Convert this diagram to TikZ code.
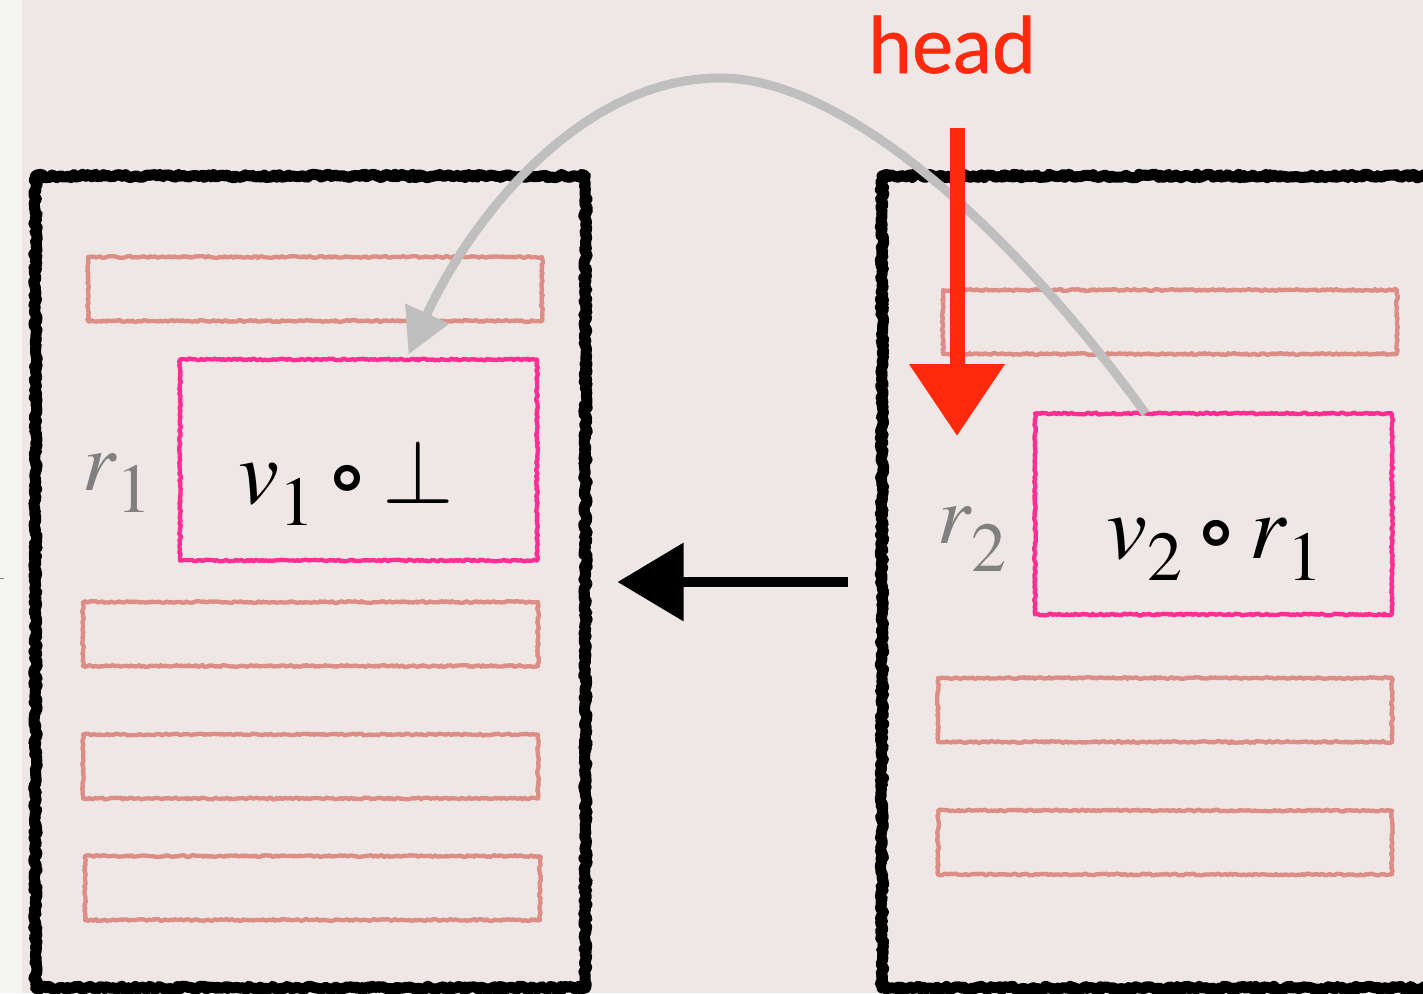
\documentclass[tikz,border=0pt]{standalone}
\usepackage{mathptmx}
\usepackage[no-math]{fontspec}
\newfontfamily\headfont[FakeBold=0.7]{Lato}
\newfontfamily\ringfont{DejaVu Sans}[BoldFont={DejaVu Sans Bold}]
\usetikzlibrary{decorations.pathmorphing,arrows.meta,calc}
\definecolor{bg}{HTML}{EFE7E5}
\definecolor{strip}{HTML}{F5F5F2}
\definecolor{salmon}{HTML}{DC8E86}
\definecolor{hotpink}{HTML}{FF2E92}
\definecolor{headred}{HTML}{FF2A0E}
\definecolor{arcgray}{HTML}{BFBFBF}
\definecolor{labgray}{HTML}{808080}
% subscript helper: base, lowering, subscript
\newcommand\lowsub[3]{$#1$\raisebox{-#2}{\fontsize{70}{70}\selectfont$#3$}}
\newcommand\ringop{{\ringfont\bfseries\fontsize{80}{80}\selectfont ∘}}
\tikzset{
  sketchbig/.style={draw=black, line width=11pt, line join=round, inner sep=0pt, outer sep=0pt,
    decorate, decoration={random steps, segment length=2.5pt, amplitude=1.8pt}},
  slot/.style={draw=salmon, line width=4.3pt, line join=round, inner sep=0pt, outer sep=0pt,
    decorate, decoration={random steps, segment length=2pt, amplitude=0.9pt},
    minimum width=454pt, minimum height=64pt},
  cell/.style={draw=hotpink, line width=4.3pt, line join=round, inner sep=0pt, outer sep=0pt,
    decorate, decoration={random steps, segment length=2pt, amplitude=0.9pt},
    minimum width=357pt, minimum height=201pt},
  mathlab/.style={font=\fontsize{92}{100}\selectfont, inner sep=0pt, anchor=base west},
  reglab/.style={text=labgray, font=\fontsize{84}{90}\selectfont, inner sep=0pt, anchor=base west},
}
\begin{document}
\begin{tikzpicture}[x=1pt,y=-1pt]
\useasboundingbox (0,0) rectangle (1423,993);
\clip (0,0) rectangle (1423,993);
\fill[bg] (0,0) rectangle (1423,993);
\fill[strip] (0,0) rectangle (22,993);
\draw[labgray, line width=0.8pt] (0,578) -- (4,578);

% left record
\node[sketchbig, minimum width=550pt, minimum height=812pt] (L) at (310.5,582) {};
\node[slot] (la) at (315,289) {};
\node[cell] (lp) at (358.5,460) {};
\node[slot, minimum width=455pt] (lb) at (310.5,634) {};
\node[slot, minimum width=455pt] (lc) at (310.5,766.5) {};
\node[slot, minimum width=455pt] (ld) at (312.5,888) {};
\node[reglab] (r1) at (82,490) {\lowsub{r}{22pt}{1}};
\node[mathlab] (v1) at (238,503) {\lowsub{v}{22pt}{1}\hspace{8pt}\ringop\hspace{10pt}$\bot$};

% right record
\node[sketchbig, minimum width=568pt, minimum height=812pt] (R) at (1166,582) {};
\node[slot] (ra) at (1170,322) {};
\node[cell] (rp) at (1213.5,514) {};
\node[slot] (rb) at (1165,710) {};
\node[slot] (rc) at (1165,842.5) {};
\node[reglab] (r2) at (937,543) {\lowsub{r}{28pt}{2}};
\node[mathlab] (v2) at (1106,558) {\lowsub{v}{22pt}{2}\hspace{9pt}\ringop\hspace{8pt}\lowsub{r}{22pt}{1}};

% gray pointer arc
\coordinate (arctop) at (720,78);
\draw[arcgray, line width=9pt, -{Triangle[length=45pt,width=46pt]}]
  ([xshift=-68pt]rp.north) .. controls (1020,240) and (850,78) .. (arctop)
  .. controls (580,78) and (470,220) .. ([xshift=50pt,yshift=5pt]lp.north);

% head label and arrow
\node[text=headred, font=\headfont\fontsize{78}{80}\selectfont, anchor=base, inner sep=0pt] (head) at (952,73) {head};
\coordinate (headstart) at (957,128);
\coordinate (headend) at (957,436);
\draw[headred, line width=15pt, -{Triangle[length=72pt,width=92pt]}] (headstart) -- (headend);

% link arrow
\draw[black, line width=10pt, -{Triangle[length=66pt,width=76pt]}, shorten <=34pt, shorten >=32pt] (R.west) -- (L.east);
\end{tikzpicture}
\end{document}
